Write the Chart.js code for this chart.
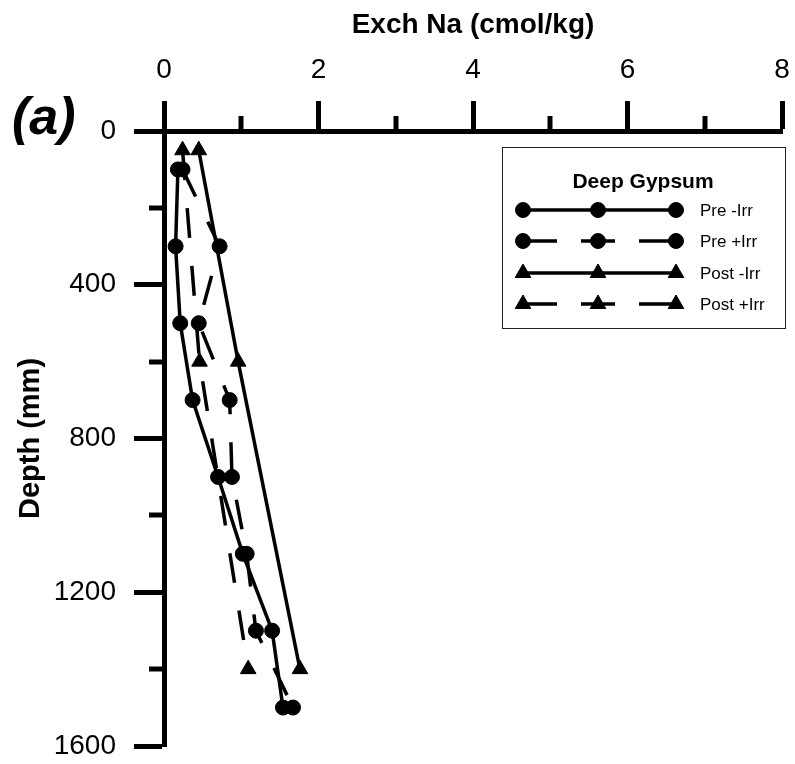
<!DOCTYPE html>
<html>
<head>
<meta charset="utf-8">
<script src="https://cdn.jsdelivr.net/npm/chart.js@4.4.0/dist/chart.umd.min.js"></script>
<style>
  html, body { margin: 0; padding: 0; background: #fff; }
  #wrap { width: 795px; height: 764px; position: relative; }
</style>
</head>
<body>
<div id="wrap"><canvas id="chart"></canvas></div>
<script>
// depths (mm) and exchangeable Na (cmol/kg)
const depthsPre = [100, 300, 500, 700, 900, 1100, 1300, 1500];
const depthsPost = [50, 600, 1400];
const preNoIrr = [0.18, 0.15, 0.21, 0.37, 0.70, 1.02, 1.40, 1.54];
const preIrr = [0.24, 0.72, 0.45, 0.85, 0.88, 1.07, 1.19, 1.67];
const postNoIrr = [0.45, 0.96, 1.76];
const postIrr = [0.24, 0.46, 1.09];
const seriesLabels = ['Pre -Irr', 'Pre +Irr', 'Post -Irr', 'Post +Irr'];
const xTicks = [0, 2, 4, 6, 8];
const yTicks = [0, 400, 800, 1200, 1600];

const sans = '"Liberation Sans", Arial, sans-serif';
const dash = [30, 28];

const toPoints = (xs, ds) => xs.map((v, i) => ({ x: v, y: ds[i] }));

function series(label, values, depths, style, dashed) {
    return {
        label,
        data: toPoints(values, depths),
        showLine: true,
        borderColor: '#000',
        backgroundColor: '#000',
        borderWidth: 3.5,
        borderDash: dashed ? dash : [],
        pointStyle: style,
        pointRadius: style === 'triangle' ? 9 : 7.5,
        pointBorderWidth: 1,
        pointBackgroundColor: '#000',
        pointBorderColor: '#000',
    };
}

// minor ticks are shorter than the major ones
const minorTicks = {
    id: 'minorTicks',
    afterDraw(chart) {
        const { ctx, scales: { x, y } } = chart;
        ctx.save();
        ctx.strokeStyle = '#000';
        ctx.lineWidth = 5;
        x.ticks.forEach((t) => {
            if (xTicks.includes(t.value)) return;
            const px = Math.round(x.getPixelForValue(t.value));
            ctx.beginPath();
            ctx.moveTo(px, x.bottom);
            ctx.lineTo(px, x.bottom - 15);
            ctx.stroke();
        });
        y.ticks.forEach((t) => {
            if (yTicks.includes(t.value)) return;
            const py = Math.round(y.getPixelForValue(t.value));
            ctx.beginPath();
            ctx.moveTo(y.right, py);
            ctx.lineTo(y.right - 15, py);
            ctx.stroke();
        });
        ctx.restore();
    }
};

const panelLabel = {
    id: 'panelLabel',
    afterDraw(chart) {
        const ctx = chart.ctx;
        ctx.save();
        ctx.fillStyle = '#000';
        ctx.font = 'italic bold 52px ' + sans;
        ctx.textBaseline = 'alphabetic';
        ctx.fillText('(a)', 12, 134);
        ctx.restore();
    }
};

// legend box with three markers per entry, like the original
const boxLegend = {
    id: 'boxLegend',
    afterDraw(chart) {
        const ctx = chart.ctx;
        const rows = [210, 241, 273, 304];
        const marks = [523, 598, 676];
        ctx.save();
        ctx.strokeStyle = '#222';
        ctx.lineWidth = 1;
        ctx.strokeRect(502.5, 147.5, 283, 181);
        ctx.fillStyle = '#000';
        ctx.font = 'bold 21px ' + sans;
        ctx.textAlign = 'center';
        ctx.textBaseline = 'alphabetic';
        ctx.fillText('Deep Gypsum', 643, 188);

        chart.data.datasets.forEach((ds, i) => {
            const yy = rows[i];
            ctx.strokeStyle = '#000';
            ctx.lineWidth = 3.5;
            ctx.setLineDash(ds.borderDash.length ? [34, 24] : []);
            ctx.beginPath();
            ctx.moveTo(marks[0], yy);
            ctx.lineTo(marks[2], yy);
            ctx.stroke();
            ctx.setLineDash([]);
            ctx.fillStyle = '#000';
            ctx.lineWidth = 1;
            marks.forEach((mx) => {
                Chart.helpers.drawPoint(ctx, {
                    pointStyle: ds.pointStyle,
                    radius: ds.pointRadius,
                    rotation: 0,
                    borderWidth: 1,
                }, mx, yy);
            });
            ctx.font = '17px ' + sans;
            ctx.textAlign = 'left';
            ctx.textBaseline = 'middle';
            ctx.fillText(ds.label, 700, yy + 1);
        });
        ctx.restore();
    }
};

const ctx = document.getElementById('chart').getContext('2d');
new Chart(ctx, {
    type: 'scatter',
    data: {
        datasets: [
            series(seriesLabels[0], preNoIrr, depthsPre, 'circle', false),
            series(seriesLabels[1], preIrr, depthsPre, 'circle', true),
            series(seriesLabels[2], postNoIrr, depthsPost, 'triangle', false),
            series(seriesLabels[3], postIrr, depthsPost, 'triangle', true),
        ],
    },
    options: {
        responsive: true,
        maintainAspectRatio: false,
        animation: false,
        layout: { padding: { top: 0, left: 0, right: 13, bottom: 18 } },
        plugins: {
            legend: { display: false },
            tooltip: { enabled: false },
        },
        scales: {
            x: {
                type: 'linear',
                position: 'top',
                min: 0,
                max: 8,
                ticks: {
                    stepSize: 1,
                    autoSkip: false,
                    maxRotation: 0,
                    padding: 14,
                    color: '#000',
                    font: { family: sans, size: 28 },
                    callback: (v) => (xTicks.includes(v) ? v : ''),
                },
                grid: {
                    drawOnChartArea: false,
                    drawTicks: true,
                    tickLength: 30,
                    tickWidth: 5,
                    tickColor: (c) => (xTicks.includes(c.tick.value) ? '#000' : 'rgba(0,0,0,0)'),
                },
                border: { display: true, width: 5, color: '#000' },
                title: {
                    display: true,
                    text: 'Exch Na (cmol/kg)',
                    color: '#000',
                    font: { family: sans, size: 28, weight: 'bold' },
                    padding: { top: 8, bottom: 0 },
                },
                afterFit: (s) => {
                    s.height = 131;
                    s.paddingLeft = 0;
                    s.paddingRight = 0;
                },
            },
            y: {
                type: 'linear',
                reverse: true,
                min: 0,
                max: 1600,
                ticks: {
                    stepSize: 200,
                    autoSkip: false,
                    padding: 18,
                    color: '#000',
                    font: { family: sans, size: 28 },
                    callback: (v) => (yTicks.includes(v) ? v : ''),
                },
                grid: {
                    drawOnChartArea: false,
                    drawTicks: true,
                    tickLength: 30,
                    tickWidth: 5,
                    tickColor: (c) => (yTicks.includes(c.tick.value) ? '#000' : 'rgba(0,0,0,0)'),
                },
                border: { display: true, width: 5, color: '#000' },
                title: {
                    display: true,
                    text: 'Depth (mm)',
                    color: '#000',
                    font: { family: sans, size: 29, weight: 'bold' },
                    padding: { top: 14, bottom: 0 },
                },
                afterFit: (s) => {
                    s.width = 164;
                    s.paddingTop = 0;
                    s.paddingBottom = 0;
                },
            },
        },
    },
    plugins: [minorTicks, panelLabel, boxLegend],
});
</script>
</body>
</html>
